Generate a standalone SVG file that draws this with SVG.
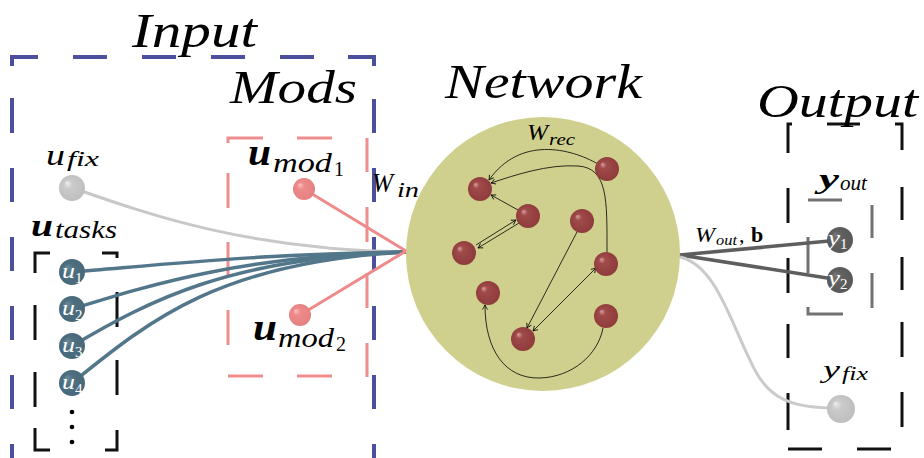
<svg xmlns="http://www.w3.org/2000/svg" width="924" height="458" viewBox="0 0 924 458" font-family="Liberation Serif, DejaVu Serif, serif">
<defs>
<style>
.t{font-family:"Liberation Serif","DejaVu Serif","Times New Roman",serif;font-style:italic;fill:#000}
.b{font-weight:bold}
.w{fill:#fff}
.up{font-style:normal}
.dash{fill:none;stroke-linecap:butt}
.blue{stroke:#4c509c;stroke-width:4}
.pinkb{stroke:#ee8e8e;stroke-width:3}
.blk{stroke:#111;stroke-width:3}
.gry{stroke:#727272;stroke-width:3}
.arc{fill:none;stroke:#000;stroke-width:0.8}
.teal{fill:none;stroke:#53778a;stroke-width:3.5}
</style>
<radialGradient id="gRed" cx="0.5" cy="0.5" r="0.55" fx="0.3" fy="0.3">
<stop offset="0" stop-color="#d9a0a0"/><stop offset="0.25" stop-color="#a04a4a"/><stop offset="1" stop-color="#8e3a3a"/>
</radialGradient>
<radialGradient id="gGray" cx="0.5" cy="0.5" r="0.55" fx="0.3" fy="0.3">
<stop offset="0" stop-color="#eeeeee"/><stop offset="0.3" stop-color="#cbcbcb"/><stop offset="1" stop-color="#bdbdbd"/>
</radialGradient>
<radialGradient id="gPink" cx="0.5" cy="0.5" r="0.55" fx="0.3" fy="0.3">
<stop offset="0" stop-color="#f7c4c4"/><stop offset="0.3" stop-color="#ee8a8a"/><stop offset="1" stop-color="#e58080"/>
</radialGradient>
<radialGradient id="gTeal" cx="0.5" cy="0.5" r="0.55" fx="0.3" fy="0.3">
<stop offset="0" stop-color="#6a8a98"/><stop offset="0.4" stop-color="#4e6f7f"/><stop offset="1" stop-color="#47687a"/>
</radialGradient>
<radialGradient id="gDark" cx="0.5" cy="0.5" r="0.55" fx="0.3" fy="0.3">
<stop offset="0" stop-color="#7a7a7a"/><stop offset="0.4" stop-color="#606060"/><stop offset="1" stop-color="#575757"/>
</radialGradient>
<marker id="ah" viewBox="-6 -4 7 8" refX="0" refY="0" markerWidth="7" markerHeight="8" markerUnits="userSpaceOnUse" orient="auto-start-reverse">
<path d="M-4.5,-2.6 Q-1.5,-0.6 0,0 Q-1.5,0.6 -4.5,2.6" fill="none" stroke="#000" stroke-width="0.8"/>
</marker>
</defs>
<rect width="924" height="458" fill="#fff"/>

<g id="input-box">
<path class="dash blue" d="M12,66 V57 H38 M73,57 H107 M142,57 H176 M211,57 H245 M280,57 H314 M348,57 H374 V66 M12,98 V133 M12,168 V202 M12,237 V271 M12,306 V340 M12,375 V409 M12,444 V478 M374,99 V133 M374,168 V202 M374,237 V271 M374,306 V340 M374,375 V409 M374,444 V478"/>
<text class="t" x="132" y="47" font-size="49" textLength="125" lengthAdjust="spacingAndGlyphs">Input</text>
</g>
<g id="mods-box">
<path class="dash pinkb" d="M228,143 V138 H263 M297,138 H332 M367,138 V172 M367,207 V242 M367,273 V308 M367,343 V377 M228,173 V208 M228,242 V276 M228,310 V345 M228,376 H263 M297,376 H332"/>
<text class="t" x="230" y="103" font-size="47" textLength="127" lengthAdjust="spacingAndGlyphs">Mods</text>
</g>
<g id="tasks-box">
<path class="dash blk" d="M35,273 V253 H50 M102,253 H117 V258 M35,305 V340 M35,372 V407 M35,428 V450 H50 M117,292 V327 M117,360 V395 M117,430 V450 H105"/>
</g>
<g id="output-box">
<path class="dash blk" d="M788,153 V124 H792 M827,124 H860 M895,124 H902 V150 M788,188 V223 M788,258 V293 M788,324 V358 M788,393 V430 M902,187 V220 M902,257 V290 M902,322 V357 M902,392 V427 M788,449 H822 M857,449 H891"/>
<text class="t" x="757" y="117" font-size="47" textLength="161" lengthAdjust="spacingAndGlyphs">Output</text>
</g>
<g id="yout-box">
<path class="dash gry" d="M808,200 H842 M872,205 V238 M872,273 V308 M808,237 V273 M808,307 V314 H843"/>
<text class="t b" x="819" y="188" font-size="27" textLength="20" lengthAdjust="spacingAndGlyphs">y</text>
<text class="t" x="840" y="190" font-size="20" textLength="27" lengthAdjust="spacingAndGlyphs">out</text>
</g>

<g id="network">
<text class="t" x="445" y="98" font-size="48" textLength="197" lengthAdjust="spacingAndGlyphs">Network</text>
<circle cx="543" cy="254" r="137" fill="#cfd08e"/>
<text class="t" x="527" y="140" font-size="23" textLength="21" lengthAdjust="spacingAndGlyphs">W</text>
<text class="t" x="549" y="145" font-size="17" textLength="26" lengthAdjust="spacingAndGlyphs">rec</text>
</g>

<g id="connectors">
<path d="M73,188 C150,215 250,250 406,252" fill="none" stroke="#c8c8c8" stroke-width="3"/>
<path class="teal" d="M72,272 C170,264 260,254 406,252"/>
<path class="teal" d="M72,309 C150,285 240,256 406,252"/>
<path class="teal" d="M72,346 C150,300 230,258 406,252"/>
<path class="teal" d="M72,383 C150,320 220,262 406,252"/>
<path d="M304,189 L406,251 M300,315 L406,251" fill="none" stroke="#ee8a8a" stroke-width="3"/>
<path d="M680,255 L840,240 M680,255 L840,280" fill="none" stroke="#5e5e5e" stroke-width="3.5"/>
<path d="M680,257 C715,265 730,320 750,360 C765,395 785,407 830,408" fill="none" stroke="#cacaca" stroke-width="3"/>
<path class="arc" marker-end="url(#ah)" d="M598,164 C570,148 520,136 489,180"/>
<path class="arc" marker-end="url(#ah)" d="M607,252 C607,200 608,168 578,166 C548,164 515,175 491,183"/>
<path class="arc" marker-end="url(#ah)" d="M518,210 L491,195"/>
<path class="arc" marker-end="url(#ah)" d="M476,245 L516,220"/>
<path class="arc" marker-end="url(#ah)" d="M519,223 L478,248"/>
<path class="arc" marker-end="url(#ah)" d="M577,232 L527,328"/>
<path class="arc" marker-start="url(#ah)" marker-end="url(#ah)" d="M596,268 L533,331"/>
<path class="arc" marker-end="url(#ah)" d="M603,328 C598,355 572,377 540,378 C505,379 485,350 485,305"/>
</g>

<g id="neurons" fill="url(#gRed)">
<circle id="n1" cx="480" cy="189" r="12"/>
<circle id="n2" cx="528" cy="216" r="12"/>
<circle id="n3" cx="464" cy="253" r="12"/>
<circle id="n4" cx="488" cy="293" r="12"/>
<circle id="n5" cx="523" cy="339" r="12"/>
<circle id="n6" cx="582" cy="221" r="12"/>
<circle id="n7" cx="607" cy="169" r="12"/>
<circle id="n8" cx="606" cy="264" r="12"/>
<circle id="n9" cx="606" cy="316" r="12"/>
</g>

<g id="u-fix">
<circle cx="72" cy="188" r="13" fill="url(#gGray)"/>
<text class="t" x="46" y="165" font-size="30" textLength="19" lengthAdjust="spacingAndGlyphs">u</text>
<text class="t" x="67" y="166" font-size="21" textLength="32" lengthAdjust="spacingAndGlyphs">fix</text>
</g>
<g id="u-mod1">
<circle cx="304" cy="189" r="11" fill="url(#gPink)"/>
<text class="t b" x="248" y="165" font-size="38" textLength="23" lengthAdjust="spacingAndGlyphs">u</text>
<text class="t" x="273" y="172" font-size="28" textLength="59" lengthAdjust="spacingAndGlyphs">mod</text>
<text class="t up" x="334" y="176" font-size="20">1</text>
</g>
<g id="u-mod2">
<circle cx="300" cy="315" r="11" fill="url(#gPink)"/>
<text class="t b" x="253" y="340" font-size="38" textLength="24" lengthAdjust="spacingAndGlyphs">u</text>
<text class="t" x="278" y="347" font-size="28" textLength="56" lengthAdjust="spacingAndGlyphs">mod</text>
<text class="t up" x="336" y="351" font-size="20">2</text>
</g>
<g id="u-tasks">
<text class="t b" x="31" y="236" font-size="32" textLength="22" lengthAdjust="spacingAndGlyphs">u</text>
<text class="t" x="55" y="238" font-size="25" textLength="62" lengthAdjust="spacingAndGlyphs">tasks</text>
</g>
<g id="u1">
<circle cx="72" cy="272" r="13" fill="url(#gTeal)"/>
<text class="t w" x="62" y="278" font-size="22" textLength="13" lengthAdjust="spacingAndGlyphs">u</text>
<text class="t w up" x="75" y="283" font-size="15">1</text>
</g>
<g id="u2">
<circle cx="72" cy="309" r="13" fill="url(#gTeal)"/>
<text class="t w" x="62" y="315" font-size="22" textLength="13" lengthAdjust="spacingAndGlyphs">u</text>
<text class="t w up" x="75" y="320" font-size="15">2</text>
</g>
<g id="u3">
<circle cx="72" cy="346" r="13" fill="url(#gTeal)"/>
<text class="t w" x="62" y="352" font-size="22" textLength="13" lengthAdjust="spacingAndGlyphs">u</text>
<text class="t w up" x="75" y="357" font-size="15">3</text>
</g>
<g id="u4">
<circle cx="72" cy="383" r="13" fill="url(#gTeal)"/>
<text class="t w" x="62" y="389" font-size="22" textLength="13" lengthAdjust="spacingAndGlyphs">u</text>
<text class="t w up" x="75" y="394" font-size="15">4</text>
</g>
<g id="dots" fill="#000">
<circle cx="72" cy="412" r="2.3"/><circle cx="72" cy="427" r="2.3"/><circle cx="72" cy="442" r="2.3"/>
</g>

<g id="w-in">
<text class="t" x="372" y="192" font-size="28" textLength="21" lengthAdjust="spacingAndGlyphs">W</text>
<text class="t" x="397" y="197" font-size="20" textLength="22" lengthAdjust="spacingAndGlyphs">in</text>
</g>
<g id="w-out">
<text class="t" x="695" y="242" font-size="22" textLength="20" lengthAdjust="spacingAndGlyphs">W</text>
<text class="t" x="716" y="245" font-size="15" textLength="21" lengthAdjust="spacingAndGlyphs">out</text>
<text class="t up" x="739" y="242" font-size="22">,</text>
<text class="t b up" x="751" y="242" font-size="22">b</text>
</g>

<g id="y1">
<circle cx="840" cy="240" r="13" fill="url(#gDark)"/>
<text class="t w" x="828" y="245" font-size="21" textLength="12" lengthAdjust="spacingAndGlyphs">y</text>
<text class="t w up" x="840" y="249" font-size="15">1</text>
</g>
<g id="y2">
<circle cx="840" cy="280" r="13" fill="url(#gDark)"/>
<text class="t w" x="828" y="285" font-size="21" textLength="12" lengthAdjust="spacingAndGlyphs">y</text>
<text class="t w up" x="840" y="289" font-size="15">2</text>
</g>
<g id="y-fix">
<circle cx="841" cy="409" r="14" fill="url(#gGray)"/>
<text class="t" x="823" y="378" font-size="26" textLength="17" lengthAdjust="spacingAndGlyphs">y</text>
<text class="t" x="842" y="380" font-size="19" textLength="26" lengthAdjust="spacingAndGlyphs">fix</text>
</g>
</svg>
